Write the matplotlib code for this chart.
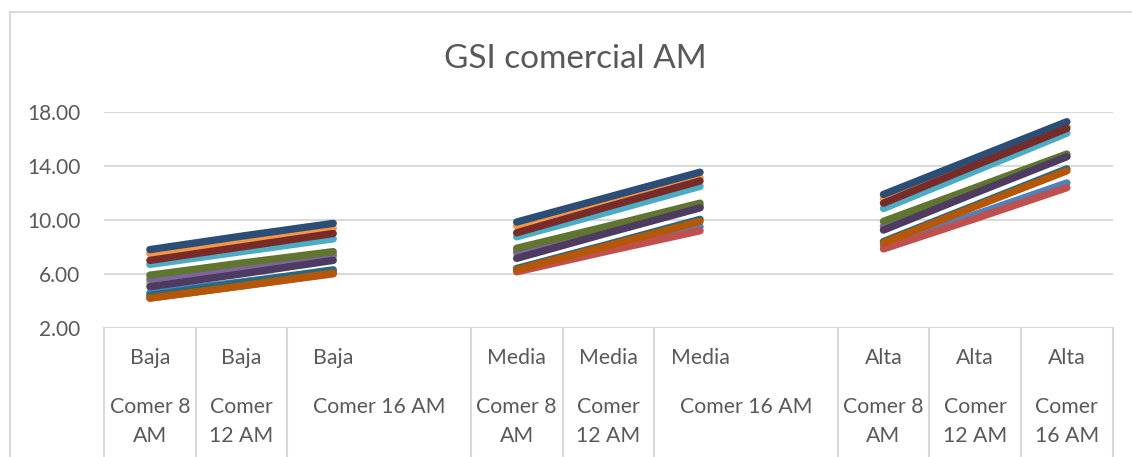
import matplotlib
matplotlib.use("Agg")
import matplotlib.pyplot as plt
from matplotlib.patches import Rectangle
from matplotlib.lines import Line2D

plt.rcParams['font.family'] = ['Lato', 'DejaVu Sans']

# Category structure
groups = ["Baja", "Media", "Alta"]
meals = ["Comer 8 AM", "Comer 12 AM", "Comer 16 AM"]

# Series values per group: [Comer 8 AM, Comer 12 AM, Comer 16 AM]
baja = [
    [4.60, 5.40, 6.20],
    [4.20, 5.10, 6.00],
    [5.35, 6.30, 7.25],
    [5.60, 6.50, 7.40],
    [6.70, 7.65, 8.60],
    [7.50, 8.45, 9.40],
    [7.80, 8.80, 9.75],
    [7.00, 8.00, 9.00],
    [5.90, 6.80, 7.65],
    [5.05, 6.00, 7.00],
    [4.40, 5.35, 6.30],
    [4.20, 5.10, 6.05],
]
media = [
    [6.35, 7.90, 9.50],
    [6.15, 7.70, 9.20],
    [7.45, 9.20, 10.95],
    [7.65, 9.35, 11.05],
    [8.75, 10.60, 12.50],
    [9.55, 11.35, 13.15],
    [9.85, 11.70, 13.55],
    [9.05, 11.00, 12.90],
    [7.90, 9.55, 11.25],
    [7.15, 9.05, 10.90],
    [6.40, 8.20, 10.05],
    [6.30, 8.10, 9.90],
]
alta = [
    [8.10, 10.40, 12.75],
    [7.85, 10.10, 12.40],
    [9.45, 12.10, 14.75],
    [9.55, 12.20, 14.80],
    [10.85, 13.65, 16.45],
    [11.60, 14.30, 16.95],
    [11.90, 14.60, 17.30],
    [11.25, 14.05, 16.80],
    [9.90, 12.40, 14.90],
    [9.25, 12.00, 14.70],
    [8.40, 11.10, 13.80],
    [8.30, 11.00, 13.65],
]

colors = ["#4F81BD", "#C0504D", "#9BBB59", "#8064A2", "#4BACC6", "#F79646",
          "#2C4D75", "#772C2A", "#5F7530", "#4D3B62", "#276A7C", "#B65708"]

yticks = [2, 6, 10, 14, 18]
ytick_labels = ["2.00", "6.00", "10.00", "14.00", "18.00"]

W, H = 1132, 457
fig = plt.figure(figsize=(W / 100, H / 100), dpi=100)
px_left, px_right, px_top, px_bottom = 104, 1112.7, 112.3, 327.7
ax = fig.add_axes([px_left / W, 1 - px_bottom / H,
                   (px_right - px_left) / W, (px_bottom - px_top) / H])

grid_c = "#D9D9D9"
text_c = "#595959"

# each group occupies 4 slots: three meals plus one spacer slot
n_slots = 4 * len(groups) - 1
ax.set_xlim(-0.5, n_slots - 0.5)
ax.set_ylim(2, 18)

for g, block in enumerate([baja, media, alta]):
    xs = [4 * g + j for j in range(len(meals))]
    for s, vals in enumerate(block):
        ax.plot(xs, vals, color=colors[s], lw=5.3, solid_capstyle='round',
                solid_joinstyle='round', zorder=3)

ax.set_yticks(yticks)
ax.set_yticklabels(ytick_labels)
ax.tick_params(axis='y', length=0, pad=17, labelsize=15, labelcolor=text_c)
ax.set_xticks([])
for s in ax.spines.values():
    s.set_visible(False)
for y in yticks:
    ax.axhline(y, color=grid_c, lw=1.5, zorder=1)

# category table below the plot
bounds = [-0.5, 0.5, 1.5, 3.5, 4.5, 5.5, 7.5, 8.5, 9.5, 10.5]
trans = ax.get_xaxis_transform()
for b in bounds:
    ax.add_line(Line2D([b, b], [0, -0.62], transform=trans, color=grid_c,
                       lw=1.5, clip_on=False))

row1_y = 1 - (358 - px_top) / (px_bottom - px_top)
row2_y = 1 - (407 - px_top) / (px_bottom - px_top)
row3_y = 1 - (436 - px_top) / (px_bottom - px_top)

fs = 15.3
for g, name in enumerate(groups):
    base = 4 * g
    for j, meal in enumerate(meals):
        x = base + j
        ax.text(x, row1_y, name, transform=trans, ha='center', va='center',
                fontsize=fs, color=text_c)
        merged = (j == 2 and g < 2)
        if merged:
            ax.text(x + 0.5, row2_y, meal, transform=trans, ha='center',
                    va='center', fontsize=fs, color=text_c)
        else:
            words = meal.split(" ")
            first = " ".join(words[:2]) if len(words[1]) == 1 else words[0]
            rest = meal[len(first):].strip()
            ax.text(x, row2_y, first, transform=trans, ha='center',
                    va='center', fontsize=fs, color=text_c)
            ax.text(x, row3_y, rest, transform=trans, ha='center',
                    va='center', fontsize=fs, color=text_c)

fig.text(575 / W, 1 - 59 / H, "GSI comercial AM", ha='center', va='center',
         fontsize=24, color=text_c)

# chart area border
fig.patches.append(Rectangle((9.5 / W, -0.1), 1.2, 1 - 12 / H + 0.1,
                             transform=fig.transFigure, fill=False,
                             edgecolor=grid_c, lw=1.5))

fig.savefig("out.png", dpi=100)
